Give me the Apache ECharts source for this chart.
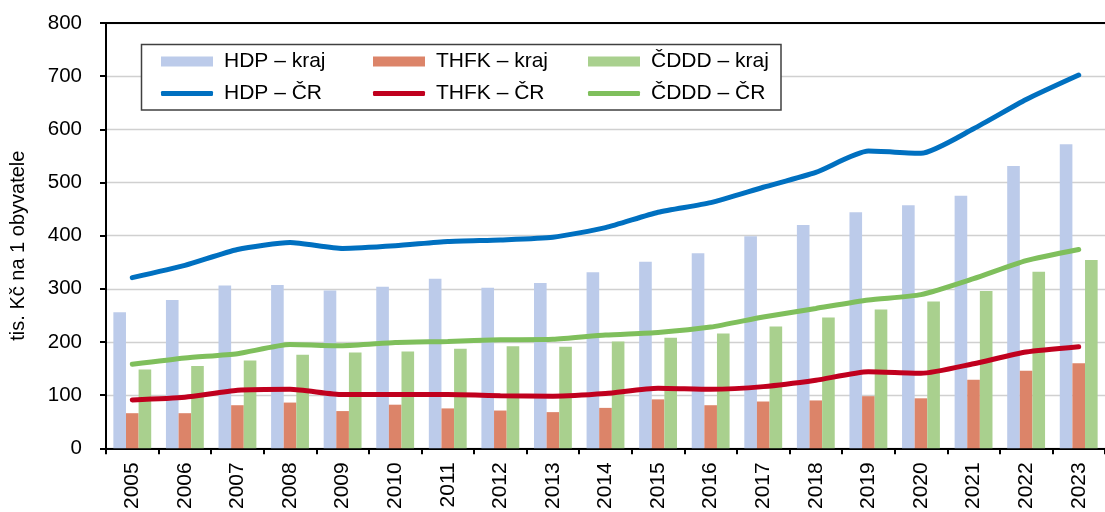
<!DOCTYPE html>
<html>
<head>
<meta charset="utf-8">
<script src="https://cdn.jsdelivr.net/npm/echarts@6/dist/echarts.min.js"></script>
<style>
  html, body { margin: 0; padding: 0; background: #fff; }
  #chart { width: 1105px; height: 512px; }
</style>
</head>
<body>
<div id="chart"></div>
<script>
const years = ['2005', '2006', '2007', '2008', '2009', '2010', '2011', '2012', '2013', '2014',
  '2015', '2016', '2017', '2018', '2019', '2020', '2021', '2022', '2023']

// bars (kraj)
const hdpKraj = [256, 279, 306, 307, 297, 304, 319, 302, 311, 331, 351, 367, 399, 420, 444, 457, 475, 531, 572]
const thfkKraj = [66, 66, 81, 86, 70, 82, 75, 71, 68, 76, 92, 81, 88, 90, 98, 94, 129, 146, 160]
const cdddKraj = [148, 155, 165, 176, 180, 182, 187, 192, 191, 201, 208, 216, 229, 246, 261, 276, 296, 332, 354]

// lines (ČR)
const hdpCR = [321, 344, 374, 387, 376, 381, 389, 392, 397, 415, 444, 462, 491, 519, 559, 555, 601, 656, 702]
const thfkCR = [91, 96, 109, 111, 101, 101, 101, 99, 98, 103, 113, 111, 116, 128, 144, 141, 159, 181, 191]
const cdddCR = [158, 170, 178, 195, 193, 199, 201, 204, 205, 213, 218, 228, 247, 263, 279, 289, 319, 353, 374]

const font = 'Liberation Sans, Arial, sans-serif'
const colors = {
  hdpKraj: '#bccbea',
  thfkKraj: '#dc8469',
  cdddKraj: '#a9d08e',
  hdpCR: '#0070c0',
  thfkCR: '#c0001e',
  cdddCR: '#7fbf5c'
}

function barSeries(name, data, color) {
  return {
    name: name,
    type: 'bar',
    data: data,
    barGap: '0%',
    barCategoryGap: '28%',
    itemStyle: { color: color },
    z: 2
  }
}

function lineSeries(name, data, color) {
  return {
    name: name,
    type: 'line',
    data: data,
    smooth: 0.2,
    symbol: 'none',
    lineStyle: { color: color, width: 5, cap: 'round' },
    itemStyle: { color: color },
    z: 5
  }
}

function legendItem(name, left, top, isLine) {
  return {
    data: [name],
    left: left,
    top: top,
    padding: 0,
    itemWidth: 52,
    itemHeight: isLine ? 5 : 10,
    icon: isLine ? 'roundRect' : 'rect',
    selectedMode: false,
    z: 6,
    textStyle: { fontFamily: font, fontSize: 21, color: '#000', padding: [0, 0, 0, 6] }
  }
}

const chart = echarts.init(document.getElementById('chart'), null, { renderer: 'canvas' })

const option = {
  animation: false,
  grid: { left: 103, right: -12, top: 23, bottom: 61.5, containLabel: false },
  legend: [
    legendItem('HDP – kraj', 161, 51, false),
    legendItem('THFK – kraj', 373, 51, false),
    legendItem('ČDDD – kraj', 588, 51, false),
    legendItem('HDP – ČR', 161, 83, true),
    legendItem('THFK – ČR', 373, 83, true),
    legendItem('ČDDD – ČR', 588, 83, true)
  ],
  graphic: [{
    type: 'rect',
    shape: { x: 141.5, y: 44.5, width: 639.5, height: 65.5 },
    style: { fill: '#fff', stroke: '#404040', lineWidth: 1.5 },
    z: 3
  }],
  xAxis: [{
    type: 'category',
    data: years,
    axisLine: { lineStyle: { color: '#000', width: 2 } },
    axisTick: { show: true, length: 6, lineStyle: { color: '#000', width: 2 } },
    axisLabel: { rotate: 90, margin: 14, fontFamily: font, fontSize: 21, color: '#000' }
  }, {
    type: 'category',
    data: years,
    position: 'top',
    axisLine: { show: true, lineStyle: { color: '#000', width: 2 } },
    axisTick: { show: false },
    axisLabel: { show: false }
  }],
  yAxis: {
    type: 'value',
    min: 0,
    max: 800,
    interval: 100,
    name: 'tis. Kč na 1 obyvatele',
    nameLocation: 'middle',
    nameGap: 78,
    nameTextStyle: { fontFamily: font, fontSize: 20, color: '#000', padding: [0, 20, 0, 0] },
    axisLine: { show: true, lineStyle: { color: '#000', width: 2 } },
    axisTick: { show: true, length: 6, lineStyle: { color: '#000', width: 2 } },
    axisLabel: { margin: 24, fontFamily: font, fontSize: 20.5, color: '#000' },
    splitLine: { lineStyle: { color: '#d0d0d0', width: 1.3 } }
  },
  series: [
    barSeries('HDP – kraj', hdpKraj, colors.hdpKraj),
    barSeries('THFK – kraj', thfkKraj, colors.thfkKraj),
    barSeries('ČDDD – kraj', cdddKraj, colors.cdddKraj),
    lineSeries('HDP – ČR', hdpCR, colors.hdpCR),
    lineSeries('THFK – ČR', thfkCR, colors.thfkCR),
    lineSeries('ČDDD – ČR', cdddCR, colors.cdddCR)
  ]
}

chart.setOption(option)
window.addEventListener('resize', chart.resize)
</script>
</body>
</html>
